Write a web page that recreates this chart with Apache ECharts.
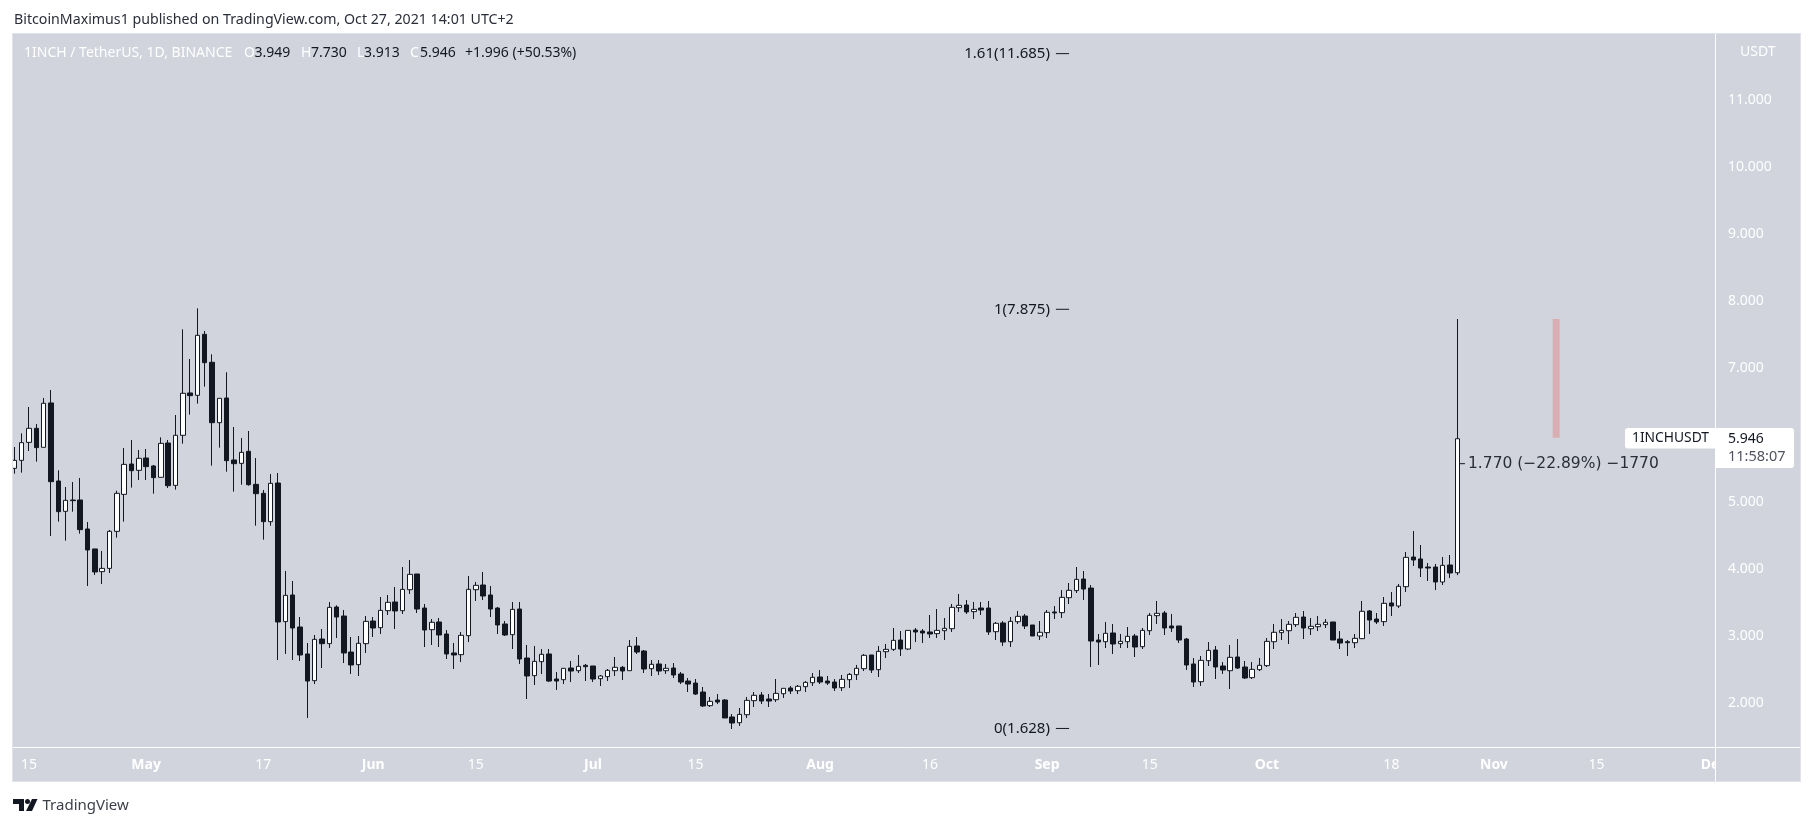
<!DOCTYPE html>
<html>
<head>
<meta charset="utf-8">
<script src="https://cdn.jsdelivr.net/npm/echarts@6/dist/echarts.min.js"></script>
<style>
  html, body { margin: 0; padding: 0; background: #ffffff; }
  #main { width: 1813px; height: 826px; }
</style>
</head>
<body>
<div id="main"></div>
<script>
// daily candles: [open, close, low, high]
var aprCandles = [
  [5.505,5.624,5.425,5.823],[5.624,5.887,5.44,6.026],[5.892,6.101,5.763,6.419],[6.101,5.813,5.604,6.166],
  [5.818,6.474,5.818,6.553],[6.479,5.306,4.496,6.672],[5.316,4.859,4.71,5.475],[4.864,5.028,4.427,5.227],
  [5.033,5.023,4.859,5.301],[5.033,4.591,4.531,5.361],[4.601,4.288,3.751,4.705],[4.303,3.96,3.915,4.303],
  [3.965,4.014,3.781,4.273],[4.014,4.566,3.945,4.586],[4.566,5.132,4.471,5.172],[5.117,5.564,4.71,5.808],
  [5.569,5.47,5.217,5.927],[5.475,5.654,5.331,5.778]
];
var mayCandles = [
  [5.659,5.53,5.331,5.793],[5.54,5.366,5.127,5.554],[5.371,5.877,5.371,5.967],[5.882,5.246,5.212,5.927],
  [5.251,5.997,5.187,6.3],[5.997,6.623,5.872,7.576],[6.628,6.588,6.305,7.134],[6.593,7.487,6.469,7.889],
  [7.502,7.08,6.722,7.552],[7.085,6.185,5.545,7.204],[6.185,6.548,5.813,6.548],[6.553,5.619,5.455,6.936],
  [5.629,5.574,5.157,6.121],[5.579,5.743,5.261,5.957],[5.758,5.261,5.246,6.061],[5.266,5.127,4.65,5.659],
  [5.132,4.71,4.442,5.182],[4.71,5.281,4.65,5.42],[5.286,3.215,2.648,5.435],[3.22,3.612,2.738,3.975],
  [3.617,3.125,2.648,3.826],[3.14,2.723,2.633,3.289],[2.738,2.335,1.784,2.902],[2.34,2.956,2.29,3.021],
  [2.961,2.892,2.529,3.11],[2.892,3.433,2.827,3.513],[3.438,3.289,2.976,3.463],[3.304,2.753,2.603,3.393],
  [2.767,2.574,2.44,2.991],[2.579,2.897,2.41,3.006],[2.892,3.224,2.753,3.304]
];
var junCandles = [
  [3.229,3.125,2.991,3.289],[3.13,3.388,3.036,3.587],[3.383,3.508,3.319,3.617],[3.513,3.379,3.11,3.736],
  [3.383,3.701,3.334,4.034],[3.696,3.925,3.632,4.139],[3.93,3.408,3.349,3.93],[3.423,3.095,2.842,3.483],
  [3.1,3.21,2.872,3.259],[3.215,3.021,2.842,3.274],[3.036,2.738,2.663,3.095],[2.753,2.723,2.514,2.902],
  [2.728,3.016,2.618,3.066],[3.011,3.701,2.916,3.9],[3.696,3.761,3.528,3.811],[3.766,3.602,3.542,3.96],
  [3.617,3.408,3.289,3.751],[3.423,3.17,3.036,3.438],[3.185,3.021,3.006,3.229],[3.026,3.403,2.812,3.513],
  [3.408,2.663,2.589,3.513],[2.678,2.41,2.067,2.872],[2.415,2.628,2.276,2.857],[2.623,2.733,2.44,2.812],
  [2.738,2.335,2.32,2.812],[2.365,2.335,2.201,2.469],[2.355,2.524,2.29,2.524],[2.529,2.484,2.32,2.633],
  [2.489,2.554,2.454,2.723],[2.569,2.549,2.335,2.589]
];
var julCandles = [
  [2.559,2.365,2.32,2.559],[2.37,2.41,2.261,2.425],[2.4,2.494,2.335,2.514],[2.489,2.539,2.41,2.693],
  [2.539,2.484,2.35,2.559],[2.489,2.852,2.489,2.946],[2.857,2.767,2.738,2.991],[2.782,2.514,2.454,2.797],
  [2.519,2.584,2.41,2.648],[2.589,2.484,2.425,2.648],[2.489,2.524,2.44,2.589],[2.529,2.425,2.38,2.603],
  [2.44,2.32,2.29,2.469],[2.335,2.29,2.171,2.38],[2.305,2.141,2.127,2.365],[2.171,1.963,1.948,2.246],
  [1.968,2.032,1.948,2.097],[2.052,2.022,1.992,2.141],[2.052,1.784,1.784,2.067],[1.799,1.709,1.62,1.843],
  [1.714,1.838,1.665,1.933],[1.833,2.047,1.784,2.097],[2.042,2.122,1.948,2.171],[2.127,2.037,1.992,2.171],
  [2.067,2.037,1.948,2.141],[2.057,2.151,2.022,2.365],[2.146,2.226,2.082,2.226],[2.231,2.186,2.141,2.261],
  [2.191,2.256,2.141,2.276],[2.251,2.315,2.171,2.335],[2.31,2.39,2.261,2.454]
];
var augCandles = [
  [2.395,2.32,2.29,2.499],[2.335,2.305,2.276,2.41],[2.32,2.231,2.186,2.365],[2.236,2.36,2.186,2.425],
  [2.355,2.434,2.231,2.454],[2.43,2.524,2.35,2.574],[2.519,2.718,2.484,2.738],[2.723,2.499,2.454,2.723],
  [2.504,2.777,2.395,2.857],[2.772,2.807,2.678,2.887],[2.807,2.941,2.782,3.125],[2.946,2.812,2.708,3.08],
  [2.812,3.09,2.797,3.09],[3.095,3.066,2.916,3.125],[3.08,3.051,2.902,3.11],[3.066,3.036,2.976,3.319],
  [3.041,3.09,2.976,3.408],[3.085,3.12,2.946,3.274],[3.115,3.433,3.066,3.483],[3.428,3.463,3.364,3.632],
  [3.468,3.364,3.334,3.542],[3.369,3.403,3.259,3.513],[3.423,3.393,3.319,3.513],[3.423,3.066,3.021,3.528],
  [3.07,3.195,2.946,3.215],[3.2,2.916,2.857,3.229],[2.921,3.224,2.842,3.289],[3.219,3.299,3.185,3.379],
  [3.304,3.155,3.11,3.334],[3.17,3.006,3.006,3.17],[3.006,3.061,2.946,3.229]
];
var sepCandles = [
  [3.056,3.359,2.976,3.393],[3.364,3.349,3.259,3.453],[3.354,3.582,3.274,3.691],[3.577,3.687,3.483,3.796],
  [3.682,3.85,3.647,4.034],[3.855,3.706,3.542,3.975],[3.721,2.931,2.544,3.766],[2.946,2.916,2.574,3.036],
  [2.921,3.046,2.827,3.215],[3.051,2.887,2.738,3.185],[2.892,2.926,2.827,3.036],[2.921,3.001,2.827,3.14],
  [3.006,2.842,2.693,3.036],[2.847,3.09,2.812,3.125],[3.085,3.314,3.021,3.349],[3.309,3.344,3.185,3.528],
  [3.349,3.125,3.021,3.379],[3.155,3.125,3.066,3.334],[3.155,2.946,2.902,3.155],[2.961,2.574,2.499,2.976],
  [2.589,2.32,2.246,2.678],[2.325,2.643,2.261,2.708],[2.638,2.792,2.559,2.916],[2.797,2.544,2.365,2.857],
  [2.559,2.499,2.44,2.618],[2.489,2.688,2.216,2.872],[2.693,2.529,2.514,2.961],[2.544,2.38,2.365,2.633],
  [2.385,2.509,2.365,2.618],[2.504,2.569,2.484,2.678]
];
var octCandles = [
  [2.564,2.926,2.544,2.976],[2.921,3.061,2.812,3.185],[3.056,3.09,2.946,3.259],[3.085,3.18,2.887,3.229],
  [3.175,3.284,3.14,3.349],[3.289,3.125,2.961,3.379],[3.115,3.15,3.021,3.274],[3.145,3.18,3.08,3.304],
  [3.175,3.21,3.125,3.259],[3.215,2.946,2.946,3.215],[2.961,2.901,2.812,3.08],[2.921,2.906,2.708,2.946],
  [2.906,2.971,2.827,3.036],[2.966,3.374,2.961,3.528],[3.379,3.244,3.036,3.393],[3.259,3.215,3.185,3.349],
  [3.22,3.493,3.155,3.587],[3.498,3.453,3.304,3.662],[3.453,3.746,3.423,3.781],[3.741,4.178,3.662,4.258],
  [4.183,4.139,4.049,4.571],[4.154,4.019,3.885,4.362],[4.034,4.019,3.826,4.094],[4.034,3.811,3.691,4.079],
  [3.811,4.059,3.766,4.183],[4.064,3.945,3.87,4.213],[3.949,5.946,3.913,7.73]
];
var candles = aprCandles.concat(mayCandles, junCandles, julCandles, augCandles, sepCandles, octCandles);

var tickLabels = {
  '2021-04-15': '15', '2021-05-01': 'May', '2021-05-17': '17', '2021-06-01': 'Jun',
  '2021-06-15': '15', '2021-07-01': 'Jul', '2021-07-15': '15', '2021-08-01': 'Aug',
  '2021-08-16': '16', '2021-09-01': 'Sep', '2021-09-15': '15', '2021-10-01': 'Oct',
  '2021-10-18': '18', '2021-11-01': 'Nov', '2021-11-15': '15', '2021-12-01': 'Dec'
};

// drawings sit between the days, so they use a day-number axis (day 0 = 13 Apr)
var fibRatios = ['1.61', '1', '0'];
var fibPrices = [11.685, 7.875, 1.628];
var fibDays = [142.2, 144];

var rangeDay = 210.5;
var rangeValues = [5.96, 7.73];
var noteDays = [197.3, 198.05];
var notePrice = 5.574;
var noteText = '1.770 (\u221222.89%) \u22121770';

// the axis runs on past the last candle, to 1 Dec
var dayCount = 233;
var categories = [];
for (var i = 0; i < dayCount; i++) {
  categories.push(new Date(Date.UTC(2021, 3, 13 + i)).toISOString().slice(0, 10));
}

var panel = '#d1d4dc';
var ink = '#131722';
var soft = '#ffffff';
var font = '"Noto Sans", Arial, sans-serif';

function txt(x, y, text, color, size, extra) {
  var style = { x: x, y: y, text: text, fill: color, font: (size || 14) + 'px ' + font, textVerticalAlign: 'middle' };
  for (var k in extra) style[k] = extra[k];
  return { type: 'text', z: 60, silent: true, style: style };
}
function box(x, y, w, h, color, z, r) {
  return { type: 'rect', z: z, silent: true, shape: { x: x, y: y, width: w, height: h, r: r || 0 }, style: { fill: color } };
}
function rule(x1, y1, x2, y2) {
  return { type: 'line', z: 55, silent: true, shape: { x1: x1, y1: y1, x2: x2, y2: y2 }, style: { stroke: '#ffffff', lineWidth: 1 } };
}

var chrome = [
  box(12, 33, 1789, 749, '#e0e3eb', -2),
  box(13, 34, 1787, 747, panel, -1),
  box(0, 33, 12, 749, '#ffffff', 50),          // hides the part of the first candle outside the panel
  box(12, 33, 1, 749, '#e0e3eb', 50),
  box(1716, 748, 84, 33, panel, 50),           // "Dec" is cut off by the price scale
  rule(13, 747.5, 1800, 747.5),
  rule(1715.5, 34, 1715.5, 781),

  txt(14, 20, 'BitcoinMaximus1 published on TradingView.com, Oct 27, 2021 14:01 UTC+2', '#2a2e39', 14.2),

  txt(24, 53.5, '1INCH / TetherUS, 1D, BINANCE', soft, 14),
  txt(244, 53.5, 'O', soft, 14), txt(254.5, 53.5, '3.949', ink, 14),
  txt(301, 53.5, 'H', soft, 14), txt(311, 53.5, '7.730', ink, 14),
  txt(357, 53.5, 'L', soft, 14), txt(364, 53.5, '3.913', ink, 14),
  txt(410, 53.5, 'C', soft, 14), txt(420, 53.5, '5.946', ink, 14),
  txt(465, 53.5, '+1.996 (+50.53%)', ink, 14),

  txt(1740, 52, 'USDT', soft, 14),

  box(1625, 428, 91, 20.5, '#ffffff', 52, [3, 0, 0, 3]),
  box(1716, 428, 78, 40, '#ffffff', 52, [0, 3, 3, 0]),
  txt(1632, 438.5, '1INCHUSDT', ink, 13.8),
  txt(1728, 439.5, '5.946', ink, 14),
  txt(1728, 457, '11:58:07', '#50535e', 14.5),

  { type: 'polygon', z: 60, silent: true, shape: { points: [[13, 799], [24, 799], [24, 811], [19, 811], [19, 804], [13, 804]] }, style: { fill: ink } },
  { type: 'circle', z: 60, silent: true, shape: { cx: 27.5, cy: 801.5, r: 2.5 }, style: { fill: ink } },
  { type: 'polygon', z: 60, silent: true, shape: { points: [[32, 799], [37.5, 799], [32, 811], [26, 811]] }, style: { fill: ink } },
  txt(42.5, 805.5, 'TradingView', '#3c3f48', 15)
];

var fibSeries = fibPrices.map(function (price, n) {
  return {
    type: 'line',
    xAxisIndex: 1,
    z: 2,
    animation: false,
    silent: true,
    symbol: 'circle',
    symbolSize: 0,
    showSymbol: true,
    showAllSymbol: true,
    lineStyle: { color: ink, width: 1 },
    data: [
      { value: [fibDays[0], price], label: { show: true, position: 'left', distance: 6, color: ink, fontSize: 15, fontFamily: font, formatter: fibRatios[n] + '(' + price.toFixed(3) + ')' } },
      { value: [fibDays[1], price] }
    ]
  };
});

var option = {
  animation: false,
  backgroundColor: '#ffffff',
  grid: { left: 10.64, top: 32.5, width: 1706.7, height: 738.1 },
  xAxis: [
    {
      type: 'category',
      data: categories,
      offset: -23.6,
      boundaryGap: true,
      axisLine: { show: false },
      axisTick: { show: false },
      splitLine: { show: false },
      axisLabel: {
        margin: 11,
        color: soft,
        fontSize: 14,
        fontFamily: font,
        hideOverlap: false,
        interval: function (index, value) { return tickLabels[value] !== undefined; },
        formatter: function (value) {
          var t = tickLabels[value];
          return /\d/.test(t) ? t : '{m|' + t + '}';
        },
        rich: { m: { fontWeight: 'bold', fontSize: 14, fontFamily: font, color: soft } }
      }
    },
    { type: 'value', show: false, min: -0.5, max: dayCount - 0.5 }
  ],
  yAxis: {
    type: 'value',
    position: 'right',
    min: 1,
    max: 12,
    interval: 1,
    axisLine: { show: false },
    axisTick: { show: false },
    splitLine: { show: false },
    axisLabel: {
      margin: 10.7,
      color: soft,
      fontSize: 14,
      fontFamily: font,
      showMinLabel: false,
      showMaxLabel: false,
      formatter: function (v) { return v.toFixed(3); }
    }
  },
  series: fibSeries.concat([
    {
      type: 'line',
      xAxisIndex: 1,
      z: 2,
      animation: false,
      silent: true,
      symbol: 'none',
      lineStyle: { color: '#d8aeb3', width: 7, cap: 'butt' },
      data: [[rangeDay, rangeValues[0]], [rangeDay, rangeValues[1]]]
    },
    {
      type: 'line',
      xAxisIndex: 1,
      z: 4,
      animation: false,
      silent: true,
      symbol: 'circle',
      symbolSize: 0,
      showSymbol: true,
      showAllSymbol: true,
      lineStyle: { color: ink, width: 1 },
      data: [
        { value: [noteDays[0], notePrice] },
        { value: [noteDays[1], notePrice], label: { show: true, position: 'right', distance: 3, color: '#2a2e39', fontSize: 15.5, fontFamily: '"DejaVu Sans", sans-serif', formatter: noteText } }
      ]
    },
    {
      type: 'candlestick',
      xAxisIndex: 0,
      z: 3,
      silent: true,
      barWidth: 5,
      itemStyle: { color: '#ffffff', color0: ink, borderColor: ink, borderColor0: ink, borderWidth: 1 },
      data: candles
    }
  ]),
  graphic: { elements: chrome }
};

var myChart = echarts.init(document.getElementById('main'));
myChart.setOption(option);
</script>
</body>
</html>
